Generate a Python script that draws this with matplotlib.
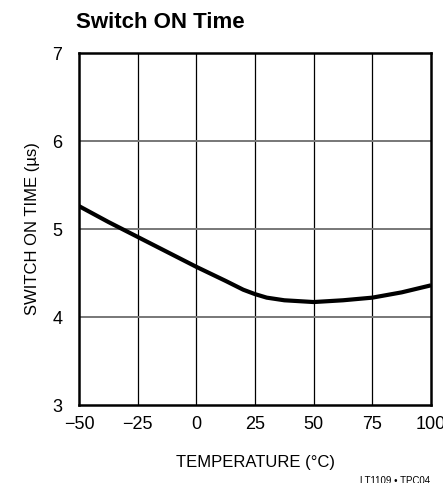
import matplotlib
matplotlib.use('Agg')
import matplotlib.pyplot as plt
import numpy as np

# data
temp = [-50, -37.5, -25, -12.5, 0, 12.5, 20, 25, 30, 37.5, 50, 62.5, 75, 87.5, 100]
on_time = [5.26, 5.08, 4.91, 4.74, 4.57, 4.41, 4.31, 4.26, 4.22, 4.19, 4.17, 4.19, 4.22, 4.28, 4.36]

x_ticks = [-50, -25, 0, 25, 50, 75, 100]
x_labels = ['\u221250', '\u221225', '0', '25', '50', '75', '100']
y_ticks = [3, 4, 5, 6, 7]

plt.rcParams['font.family'] = ['Liberation Sans Narrow', 'Liberation Sans', 'DejaVu Sans']

fig = plt.figure(figsize=(4.43, 4.83), dpi=100)
ax = fig.add_axes([79/443, 1 - 405/483, 352/443, 352/483])

ax.plot(temp, on_time, color='black', lw=3, solid_capstyle='butt', zorder=3)

ax.set_xlim(-50, 100)
ax.set_ylim(3, 7)
ax.set_xticks(x_ticks)
ax.set_xticklabels(x_labels)
ax.set_yticks(y_ticks)
ax.tick_params(length=0, labelsize=13, pad=8)
ax.tick_params(axis='y', pad=12)

for xv in x_ticks[1:-1]:
    ax.axvline(xv, color='black', lw=0.9, zorder=1)
for yv in y_ticks[1:-1]:
    ax.axhline(yv, color='#777777', lw=1.4, zorder=1)

for s in ax.spines.values():
    s.set_linewidth(1.8)

ax.set_xlabel('TEMPERATURE (\u00b0C)', fontsize=12, labelpad=16)
ax.set_ylabel('SWITCH ON TIME (\u00b5s)', fontsize=12, labelpad=9)

fig.text(76/443, 1 - 23/483, 'Switch ON Time', fontsize=16, fontweight='bold',
         ha='left', va='center')
fig.text(430/443, 1 - 481/483, 'LT1109 \u2022 TPC04', fontsize=7, ha='right', va='center')

fig.savefig('out.png', dpi=100)
